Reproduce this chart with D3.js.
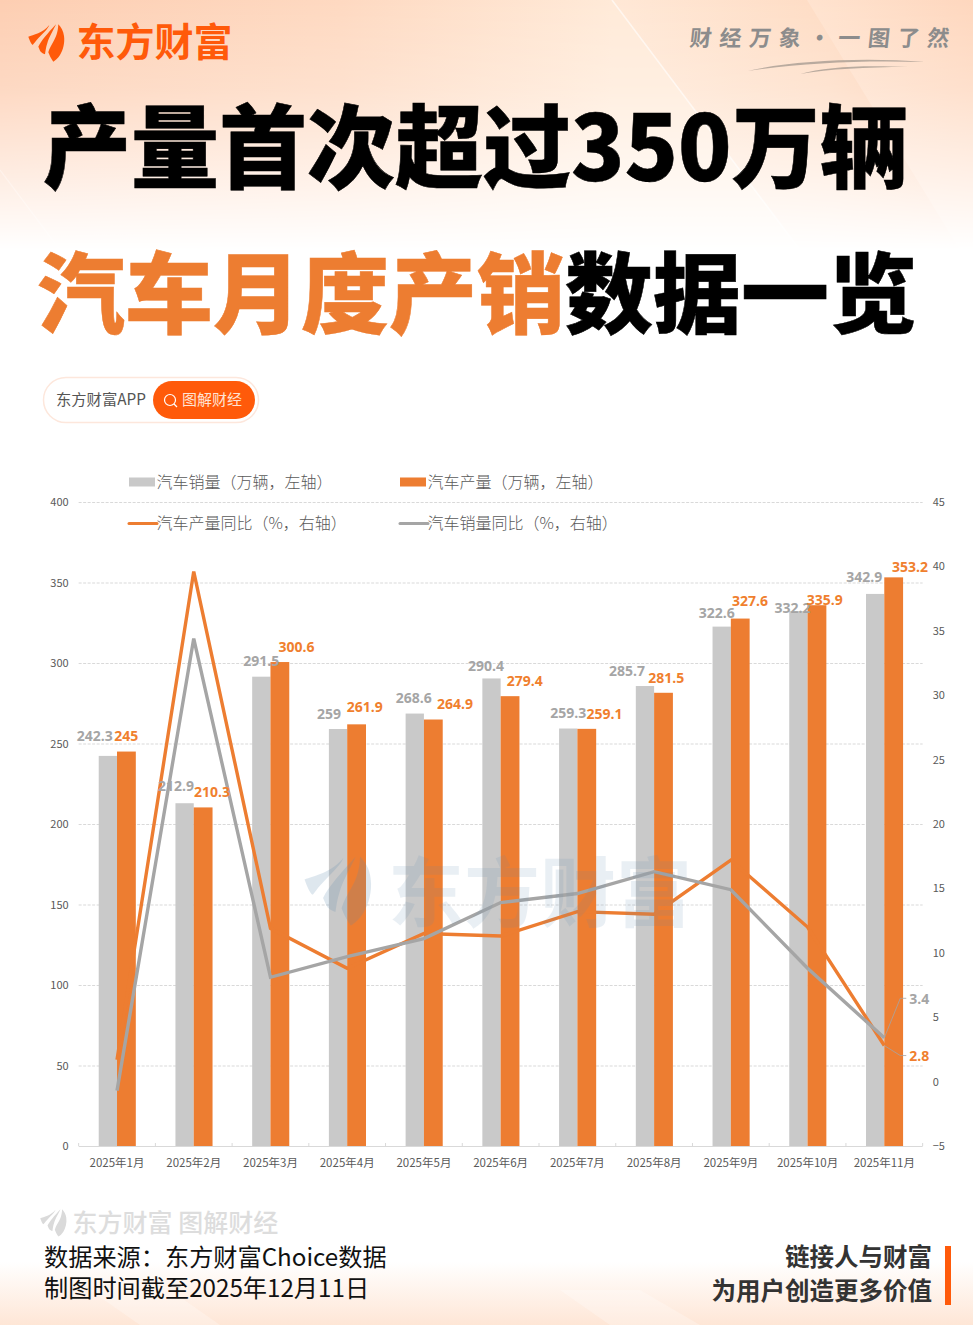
<!DOCTYPE html>
<html lang="zh"><head><meta charset="utf-8">
<script src="https://cdn.jsdelivr.net/npm/d3@7/dist/d3.min.js"></script>
<style>
html,body{margin:0;padding:0;background:#fff}
svg{display:block}
text{font-family:"Noto Sans CJK SC","Noto Sans",sans-serif}
.num{font-family:"Open Sans","Noto Sans",sans-serif;font-weight:700;font-size:14px}
</style></head><body>
<svg id="c" width="973" height="1325" xmlns="http://www.w3.org/2000/svg"></svg>
<script>
// ---- data ----
const categories = ["2025年1月","2025年2月","2025年3月","2025年4月","2025年5月","2025年6月","2025年7月","2025年8月","2025年9月","2025年10月","2025年11月"];
const salesVolume = [242.3,212.9,291.5,259,268.6,290.4,259.3,285.7,322.6,332.2,342.9];
const outputVolume = [245,210.3,300.6,261.9,264.9,279.4,259.1,281.5,327.6,335.9,353.2];
const outputYoY = [1.7,39.6,11.9,8.8,11.5,11.3,13.2,13.0,17.2,12.0,2.8];
const salesYoY = [-0.7,34.4,8.1,9.7,11.1,13.9,14.6,16.3,14.9,8.8,3.4];
const leftTicks = [0,50,100,150,200,250,300,350,400];
const rightTicks = [-5,0,5,10,15,20,25,30,35,40,45];
const legendItems = ["汽车销量（万辆，左轴）","汽车产量（万辆，左轴）","汽车产量同比（%，右轴）","汽车销量同比（%，右轴）"];
// label nudges relative to each bar's top centre
const salesNudgeX = [-13,-8.5,0,-9,-1,-5.5,0,-18,-5,-6,-11];
const salesNudgeY = [-20,-17,-15,-15,-15,-12,-15,-15,-13,-3,-17];
const outputNudgeX = [0,9,17,8.5,22,15,18,3,10,8,16.5];
const outputNudgeY = [-15,-15,-15,-17,-15,-15,-15,-15,-17,-5,-10];

const ORANGE="#ED7D31", GREY="#A5A5A5", BARGREY="#C9C9C9", BRAND="#FF5A0A";
const svg=d3.select("#c");
const defs=svg.append("defs");

// ---- background ----
function grad(id,x2,y2,stops){
  const g=defs.append("linearGradient").attr("id",id).attr("x1",0).attr("y1",0).attr("x2",x2).attr("y2",y2);
  stops.forEach(([o,c,a])=>g.append("stop").attr("offset",o).attr("stop-color",c).attr("stop-opacity",a==null?1:a));
}
grad("baseH",1,0,[[0,"#FDCEB2"],[.35,"#FED9C1"],[.63,"#FFEAD8"],[1,"#FFEAD8"]]);
grad("midBand",1,0,[[0,"#FFE8D6"],[.6,"#FEDCC4"],[1,"#FDCBAC"]]);
grad("rightBand",1,0,[[0,"#FFE3CF"],[1,"#FED7BE"]]);
grad("fade",0,1,[[0,"#fff"],[.35,"#c8c8c8"],[.7,"#606060"],[1,"#000"]]);
grad("botFade",0,1,[[0,"#FFFFFF"],[1,"#FEE6D6"]]);
defs.append("mask").attr("id","fadeMask").attr("maskUnits","userSpaceOnUse").attr("x",0).attr("y",0).attr("width",973).attr("height",250)
  .append("rect").attr("width",973).attr("height",250).attr("fill","url(#fade)");
const bg=svg.append("g").attr("mask","url(#fadeMask)");
bg.append("rect").attr("width",973).attr("height",250).attr("fill","url(#baseH)");
bg.append("path").attr("d","M612,0L973,0L973,250L800,250Z").attr("fill","url(#midBand)");
bg.append("path").attr("d","M807,0L973,0L973,250L960,250Z").attr("fill","url(#rightBand)");
bg.append("path").attr("d","M612,0L800,250").attr("stroke","#fff").attr("stroke-width",1.5).attr("opacity",.6);
bg.append("path").attr("d","M0,170L60,250").attr("stroke","#fff").attr("stroke-width",1.2).attr("opacity",.35);
svg.append("rect").attr("y",1262).attr("width",973).attr("height",63).attr("fill","url(#botFade)");
svg.append("path").attr("d","M90,1290L140,1325L220,1325L170,1290Z").attr("fill","#fff").attr("opacity",.25);
svg.append("path").attr("d","M560,1290L610,1325L700,1325L640,1290Z").attr("fill","#fff").attr("opacity",.25);

// ---- flame logo ----
function logo(sel,x,y,s,fill,op){
  const g=sel.append("g").attr("transform",`translate(${x},${y}) scale(${s})`).attr("fill",fill).attr("opacity",op);
  g.append("path").attr("d","M.3,12.7C5,11 15,9 21.3,1C20,5 15,9 8.7,16C7,18 6,19.5 4.7,21C3,20 1.5,16 .3,12.7Z");
  g.append("path").attr("d","M10.3,22.7C13,17 20,9 28,.3C26,5 21,13 19.3,19.3C18,23 17.5,27 17,30.3C15,29.5 14,29 12.7,27.7C11.5,26 11,24 10.3,22.7Z");
  g.append("path").attr("d","M30.3,.3C33,3 35.5,7 36,12C37,19 35,26 32,31C30,34 27.5,36.5 25.3,37.7C23,34.5 21.5,31.5 20.3,28.3C21.5,24 23.5,21 25.3,17.7C27.5,14 30,9 30.3,.3Z");
}
logo(svg,28,24,1,BRAND,1);

// ---- header text ----
function t(sel,x,y,s,size,fill,w,anchor){
  return sel.append("text").attr("x",x).attr("y",y).attr("font-size",size).attr("fill",fill)
    .attr("font-weight",w||400).attr("text-anchor",anchor||"start").text(s);
}
t(svg,76.5,55.5,"东方财富",39,BRAND,700);
const slogan=["财","经","万","象","·","一","图","了","然"];
slogan.forEach((c,i)=>{
  svg.append("text").attr("transform",`translate(${700+i*29.7},46) skewX(-6)`).attr("text-anchor","middle")
    .attr("font-size",22).attr("fill","#8c8c8c").attr("font-weight",700).text(c);
});
svg.append("path").attr("d","M748,71C790,61 860,57 925,62C860,60 800,63 748,71Z").attr("fill","#a89c92").attr("opacity",.8);
svg.append("path").attr("d","M800,74C825,67 860,65 908,67C865,67 830,69 800,74Z").attr("fill","#a89c92").attr("opacity",.8);

t(svg,0,0,"产量首次超过350万辆",88,"#000",900).attr("x",null).attr("y",null)
  .attr("transform","translate(43,181) scale(1,1.03)").attr("stroke","#000").attr("stroke-width",.5).attr("stroke-linejoin","miter");
const title2=svg.append("text").attr("x",37).attr("y",326).attr("font-size",88).attr("font-weight",900).attr("stroke-linejoin","miter");
title2.append("tspan").attr("fill",ORANGE).attr("stroke",ORANGE).attr("stroke-width",.5).text("汽车月度产销");
title2.append("tspan").attr("fill","#000").attr("stroke","#000").attr("stroke-width",.5).text("数据一览");

// ---- pill ----
svg.append("rect").attr("x",43.5).attr("y",377.5).attr("width",215).attr("height",45).attr("rx",22.5).attr("fill","#fff").attr("stroke","#FDE7DC").attr("stroke-width",1.5);
svg.append("rect").attr("x",153).attr("y",381).attr("width",102).attr("height",38).attr("rx",19).attr("fill",BRAND);
t(svg,56,405,"东方财富APP",15.3,"#555");
svg.append("circle").attr("cx",170).attr("cy",400).attr("r",5.5).attr("fill","none").attr("stroke","#fff").attr("stroke-width",1.2);
svg.append("line").attr("x1",174).attr("y1",404).attr("x2",177).attr("y2",407).attr("stroke","#fff").attr("stroke-width",1.2);
t(svg,182,405,"图解财经",15,"#FFE3D3");

// ---- chart ----
const plotTop=502,plotBottom=1146,x0=78.65,x1=922.65;
const x=d3.scaleBand().domain(categories).range([x0,x1]);
const yL=d3.scaleLinear().domain([0,400]).range([plotBottom,plotTop]);
const yR=d3.scaleLinear().domain([-5,45]).range([plotBottom,plotTop]);
const cx=c=>x(c)+x.bandwidth()/2;
const BW=18.3;

// gridlines
svg.append("g").selectAll("line").data(leftTicks.filter(d=>d>0)).join("line")
  .attr("x1",x0).attr("x2",x1).attr("y1",d=>yL(d)+.5).attr("y2",d=>yL(d)+.5)
  .attr("stroke","#D9D9D9").attr("stroke-width",1).attr("stroke-dasharray","3 1.5");

// axes
const axL=svg.append("g").attr("transform",`translate(${x0-10},0)`).call(d3.axisLeft(yL).tickValues(leftTicks).tickSize(0).tickPadding(0));
const axR=svg.append("g").attr("transform",`translate(${x1+10},0)`).call(d3.axisRight(yR).tickValues(rightTicks).tickFormat(d3.format("d")).tickSize(0).tickPadding(0));
[axL,axR].forEach(a=>{a.select(".domain").remove();a.selectAll("text").attr("font-size",11).attr("fill","#595959").style("font-family",'"Noto Sans CJK SC",sans-serif');});
const axB=svg.append("g").attr("transform",`translate(0,${plotBottom})`).call(d3.axisBottom(x).tickSize(0).tickPadding(13));
axB.select(".domain").remove();
axB.selectAll("text").attr("font-size",11.5).attr("fill","#595959").style("font-family",'"Noto Sans CJK SC",sans-serif');

// bars
svg.append("g").selectAll("rect").data(categories).join("rect")
  .attr("x",c=>cx(c)-BW).attr("width",BW).attr("y",(c,i)=>yL(salesVolume[i])).attr("height",(c,i)=>plotBottom-yL(salesVolume[i])).attr("fill",BARGREY);
svg.append("g").selectAll("rect").data(categories).join("rect")
  .attr("x",c=>cx(c)).attr("width",BW+.5).attr("y",(c,i)=>yL(outputVolume[i])).attr("height",(c,i)=>plotBottom-yL(outputVolume[i])).attr("fill",ORANGE);

// baseline and category ticks
svg.append("line").attr("x1",x0).attr("x2",x1).attr("y1",plotBottom+.5).attr("y2",plotBottom+.5).attr("stroke","#D9D9D9").attr("stroke-width",1.2);
svg.append("g").selectAll("line").data(categories.map((c,i)=>i).concat(categories.length)).join("line")
  .attr("x1",i=>x0+i*x.step()).attr("x2",i=>x0+i*x.step()).attr("y1",plotBottom-3).attr("y2",plotBottom).attr("stroke","#D9D9D9");

// lines
const line=d3.line().x((d,i)=>cx(categories[i])).y(d=>yR(d));
svg.append("path").attr("d",line(outputYoY)).attr("fill","none").attr("stroke",ORANGE).attr("stroke-width",3.4);
svg.append("path").attr("d",line(salesYoY)).attr("fill","none").attr("stroke",GREY).attr("stroke-width",3.4);

// bar labels
svg.append("g").selectAll("text").data(salesVolume).join("text").attr("class","num")
  .attr("text-anchor","middle").attr("fill",GREY).attr("dominant-baseline","middle")
  .attr("x",(d,i)=>cx(categories[i])-BW/2+salesNudgeX[i]).attr("y",(d,i)=>yL(d)+salesNudgeY[i]+1).text(d=>d);
svg.append("g").selectAll("text").data(outputVolume).join("text").attr("class","num")
  .attr("text-anchor","middle").attr("fill","#F07F2E").attr("dominant-baseline","middle")
  .attr("x",(d,i)=>cx(categories[i])+BW/2+outputNudgeX[i]).attr("y",(d,i)=>yL(d)+outputNudgeY[i]+1).text(d=>d);

// end-of-line labels with leaders
const last=categories.length-1, lx=cx(categories[last]);
[[salesYoY[last],-39.5,GREY],[outputYoY[last],10,"#F07F2E"]].forEach(([v,dy,col])=>{
  const py=yR(v),ly=py+dy;
  svg.append("path").attr("d",`M${lx},${py}L${lx+16},${ly}L${lx+22},${ly}`).attr("fill","none").attr("stroke",GREY).attr("stroke-width",.8);
  svg.append("text").attr("class","num").attr("x",lx+25).attr("y",ly+1.5).attr("dominant-baseline","middle").attr("fill",col).text(v);
});

// legend
const lg=svg.append("g");
[[129,482],[400,482],[129,523],[400,523]].forEach(([lxx,lyy],i)=>{
  if(i<2) lg.append("rect").attr("x",lxx).attr("y",lyy-4.5).attr("width",26).attr("height",9).attr("fill",i==0?BARGREY:ORANGE);
  else lg.append("line").attr("x1",lxx).attr("x2",lxx+28).attr("y1",lyy+.5).attr("y2",lyy+.5).attr("stroke",i==2?ORANGE:GREY).attr("stroke-width",3).attr("stroke-linecap","round");
  t(lg,lxx+27.5,lyy+6,legendItems[i],16,"#595959",300);
});

// chart watermark
const wm=svg.append("g");
t(wm,388,921,"东方财富",76,"#5E8AAE",700).attr("opacity",.13);
logo(wm,304,856,1.85,"#5E8AAE",.2);

// ---- footer ----
logo(svg,40,1209,.73,"#DADADA",1);
t(svg,72.5,1232,"东方财富 图解财经",25,"#DDDDDD",500);
t(svg,44,1266,"数据来源：东方财富Choice数据",24.2,"#111");
t(svg,44,1297,"制图时间截至2025年12月11日",24.2,"#111");
t(svg,932,1266,"链接人与财富",24.5,"#333",700,"end");
t(svg,932,1300,"为用户创造更多价值",24.5,"#333",700,"end");
svg.append("rect").attr("x",945).attr("y",1246).attr("width",6).attr("height",59).attr("fill",BRAND);
</script>
</body></html>
